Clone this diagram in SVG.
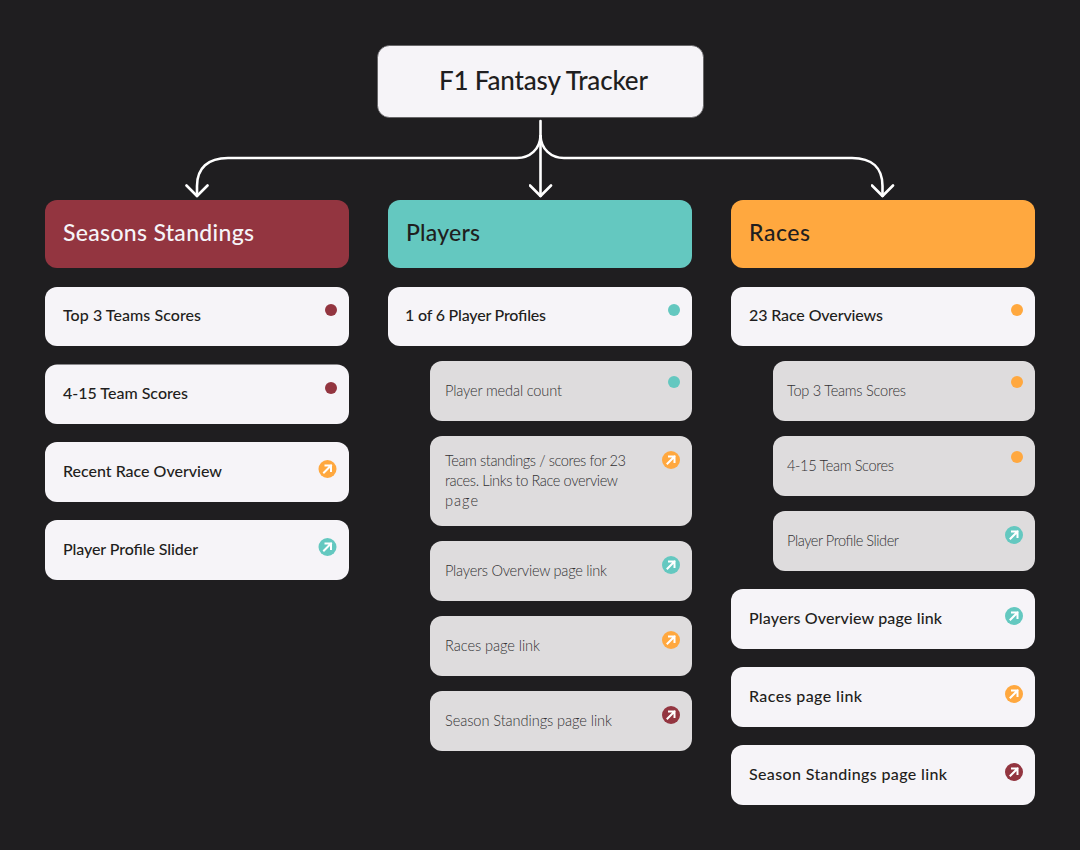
<svg xmlns="http://www.w3.org/2000/svg" width="1080" height="850" viewBox="0 0 1080 850">
<style>
text{font-family:"Lato","Liberation Sans",sans-serif}
.c{fill:#f6f4f8}.g{fill:#dedcdd}
.r{fill:#933540}.t{fill:#64c8c0}.o{fill:#ffa83f}
.lbl{font-size:16px;font-weight:500;fill:#1f1e20}
.sub{font-size:14.600px;font-weight:300;fill:#333234}
.hd{font-size:23px;font-weight:500}
.conn{fill:none;stroke:#fff;stroke-width:2.600;stroke-linecap:round;stroke-linejoin:round}
.ar{fill:none;stroke:#fff;stroke-width:2;stroke-linecap:square}
</style>
<defs>
<marker id="head" viewBox="-12 -12 24 24" markerWidth="24" markerHeight="24" markerUnits="userSpaceOnUse" orient="auto"><path d="M-10.500 -10.500L0 0L-10.500 10.500" fill="none" stroke="#fff" stroke-width="2.600" stroke-linecap="round" stroke-linejoin="round"/></marker>
<g id="arw"><path class="ar" d="M-3.500 3.500L3.500 -3.500M-2 -3.500H3.500V2"/></g>
</defs>
<rect width="1080" height="850" fill="#1f1e20"/>
<g id="connectors">
<path class="conn" marker-end="url(#head)" d="M540.500 121V196"/>
<path class="conn" marker-end="url(#head)" d="M540.500 136C540 149 530 158 517 158H228C208 158 197 168 197 186V196"/>
<path class="conn" marker-end="url(#head)" d="M540.500 136C541 149 551 158 564 158H852C872 158 882.500 168 882.500 186V196"/>
</g>
<g id="root"><rect x="377.500" y="45.500" width="326" height="72" rx="12" class="c" stroke="#5f5e61" stroke-width="0.800"/><text x="439" y="90" font-size="26" font-weight="500" fill="#1f1e20" textLength="209">F1 Fantasy Tracker</text></g>

<g id="seasons"><rect x="45" y="200" width="304" height="68" rx="12" class="r"/><text x="63" y="241" class="hd" fill="#f6f4f8" textLength="191">Seasons Standings</text></g>
<g id="s1"><rect x="45" y="287" width="304" height="59" rx="12" class="c"/><text x="63" y="321" class="lbl" textLength="138">Top 3 Teams Scores</text><circle cx="331" cy="310" r="6" class="r"/></g>
<g id="s2"><rect x="45" y="364.500" width="304" height="59.500" rx="12" class="c"/><text x="63" y="399" class="lbl" textLength="125">4-15 Team Scores</text><circle cx="331" cy="388" r="6" class="r"/></g>
<g id="s3"><rect x="45" y="442" width="304" height="60" rx="12" class="c"/><text x="63" y="477" class="lbl" textLength="159">Recent Race Overview</text><circle cx="327.500" cy="469" r="9" class="o"/><use href="#arw" x="327.500" y="469"/></g>
<g id="s4"><rect x="45" y="520" width="304" height="60" rx="12" class="c"/><text x="63" y="555" class="lbl" textLength="135">Player Profile Slider</text><circle cx="327.500" cy="547" r="9" class="t"/><use href="#arw" x="327.500" y="547"/></g>

<g id="players"><rect x="388" y="200" width="304" height="68" rx="12" class="t"/><text x="406" y="241" class="hd" fill="#1f1e20" textLength="74">Players</text></g>
<g id="p1"><rect x="388" y="287" width="304" height="59" rx="12" class="c"/><text x="405" y="321" class="lbl" textLength="141">1 of 6 Player Profiles</text><circle cx="674" cy="310" r="6" class="t"/></g>
<g id="p2"><rect x="430" y="361" width="262" height="60" rx="12" class="g"/><text x="445" y="395.500" class="sub" textLength="117">Player medal count</text><circle cx="674" cy="382" r="6" class="t"/></g>
<g id="p3"><rect x="430" y="436" width="262" height="90" rx="12" class="g"/><text class="sub"><tspan x="445" y="465.500" textLength="181">Team standings / scores for 23</tspan><tspan x="445" y="485.500" textLength="173">races. Links to Race overview</tspan><tspan x="445" y="505.500" textLength="33">page</tspan></text><circle cx="671" cy="460" r="9" class="o"/><use href="#arw" x="671" y="460"/></g>
<g id="p4"><rect x="430" y="541" width="262" height="60" rx="12" class="g"/><text x="445" y="575.500" class="sub" textLength="162">Players Overview page link</text><circle cx="671" cy="565" r="9" class="t"/><use href="#arw" x="671" y="565"/></g>
<g id="p5"><rect x="430" y="616" width="262" height="60" rx="12" class="g"/><text x="445" y="650.500" class="sub" textLength="95">Races page link</text><circle cx="671" cy="640" r="9" class="o"/><use href="#arw" x="671" y="640"/></g>
<g id="p6"><rect x="430" y="691" width="262" height="60" rx="12" class="g"/><text x="445" y="725.500" class="sub" textLength="167">Season Standings page link</text><circle cx="671" cy="715" r="9" class="r"/><use href="#arw" x="671" y="715"/></g>

<g id="races"><rect x="731" y="200" width="304" height="68" rx="12" class="o"/><text x="749" y="241" class="hd" fill="#1f1e20" textLength="61">Races</text></g>
<g id="r1"><rect x="731" y="287" width="304" height="59" rx="12" class="c"/><text x="749" y="321" class="lbl" textLength="134">23 Race Overviews</text><circle cx="1017" cy="310" r="6" class="o"/></g>
<g id="r2"><rect x="773" y="361" width="262" height="60" rx="12" class="g"/><text x="787" y="395.500" class="sub" textLength="119">Top 3 Teams Scores</text><circle cx="1017" cy="382" r="6" class="o"/></g>
<g id="r3"><rect x="773" y="436" width="262" height="60" rx="12" class="g"/><text x="787" y="470.500" class="sub" textLength="107">4-15 Team Scores</text><circle cx="1017" cy="457" r="6" class="o"/></g>
<g id="r4"><rect x="773" y="511" width="262" height="60" rx="12" class="g"/><text x="787" y="545.500" class="sub" textLength="112">Player Profile Slider</text><circle cx="1014" cy="535" r="9" class="t"/><use href="#arw" x="1014" y="535"/></g>
<g id="r5"><rect x="731" y="589" width="304" height="60" rx="12" class="c"/><text x="749" y="624" class="lbl" textLength="193">Players Overview page link</text><circle cx="1014" cy="616" r="9" class="t"/><use href="#arw" x="1014" y="616"/></g>
<g id="r6"><rect x="731" y="667" width="304" height="60" rx="12" class="c"/><text x="749" y="702" class="lbl" textLength="113">Races page link</text><circle cx="1014" cy="694" r="9" class="o"/><use href="#arw" x="1014" y="694"/></g>
<g id="r7"><rect x="731" y="745" width="304" height="60" rx="12" class="c"/><text x="749" y="780" class="lbl" textLength="198">Season Standings page link</text><circle cx="1014" cy="772" r="9" class="r"/><use href="#arw" x="1014" y="772"/></g>
</svg>
